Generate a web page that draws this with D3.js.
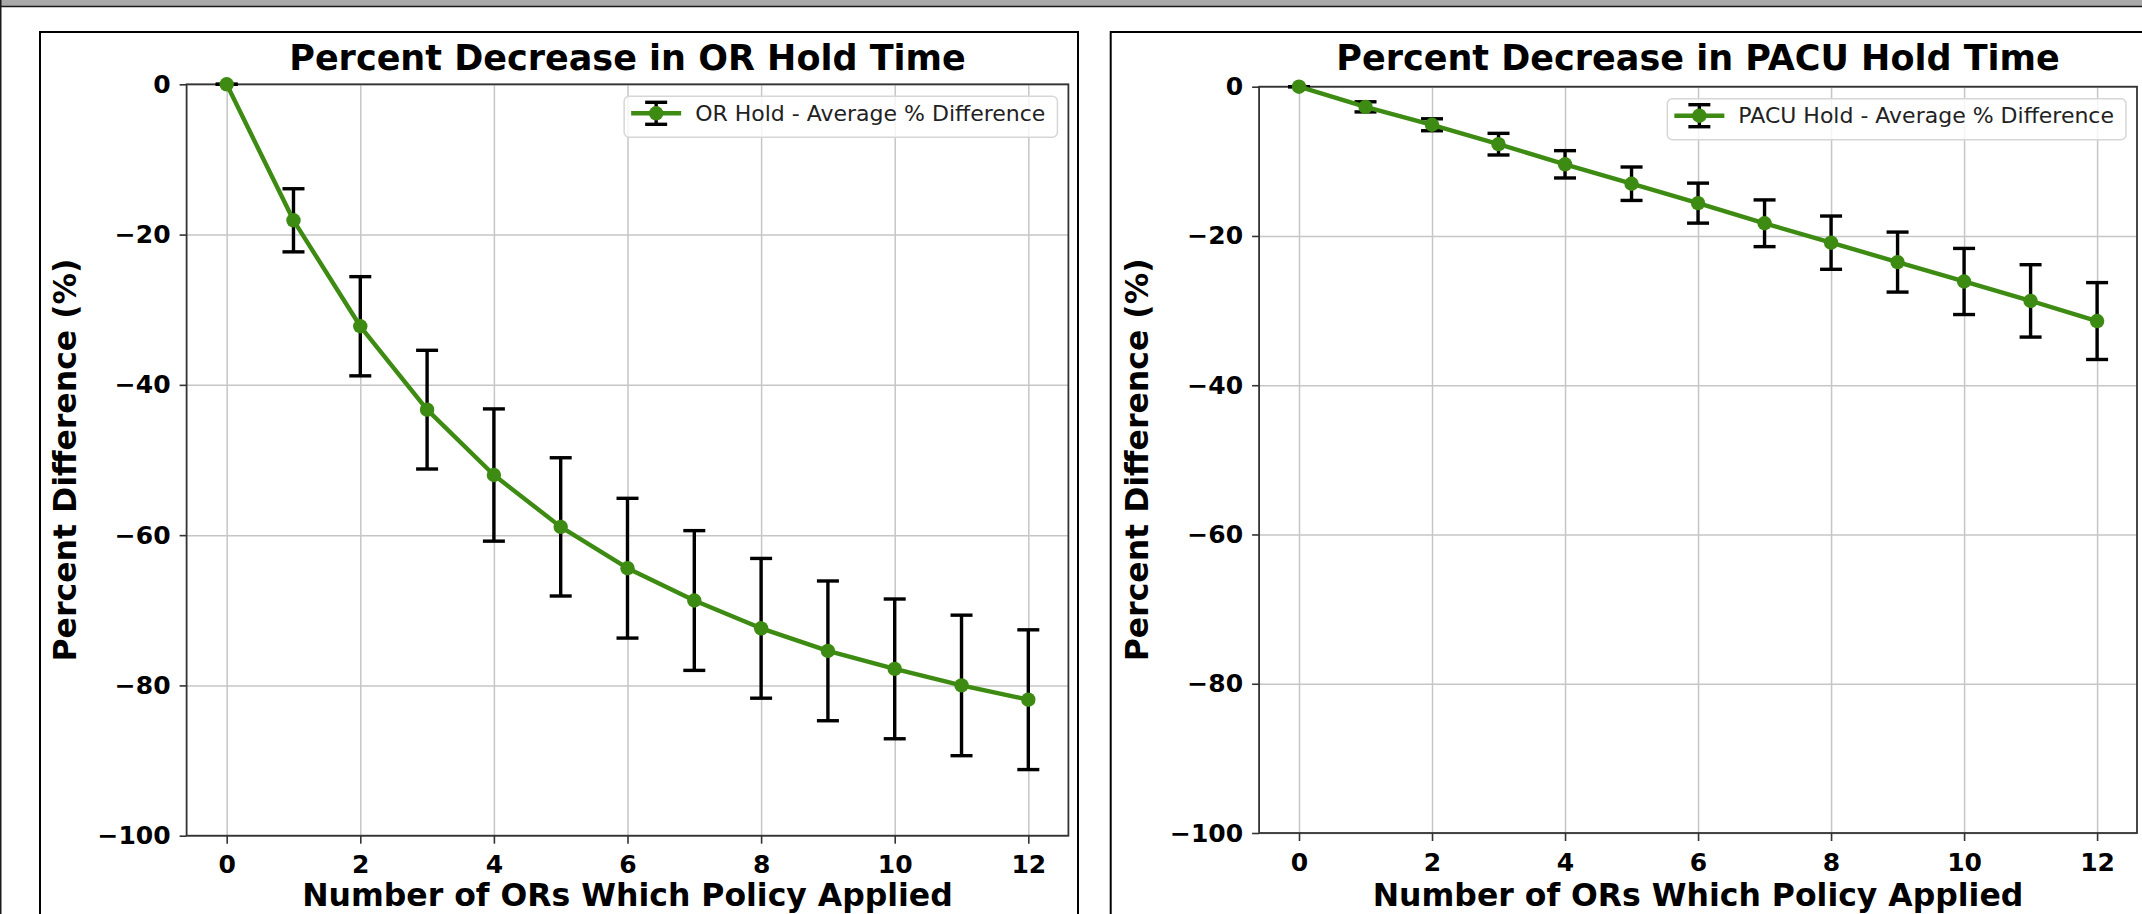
<!DOCTYPE html>
<html>
<head>
<meta charset="utf-8">
<script src="https://cdn.jsdelivr.net/npm/d3@7"></script>
<style>
  body { margin: 0; background: #fff; }
  svg { display: block; }
  .tick text { font-family: "DejaVu Sans", sans-serif; font-weight: bold; font-size: 25px; fill: #000; }
</style>
</head>
<body>
<script>
'use strict';

// x positions (number of ORs the policy was applied to)
var orsApplied = [0, 1, 2, 3, 4, 5, 6, 7, 8, 9, 10, 11, 12];

// OR hold, average % difference and error half-width
var orHoldMean = [0, -18.1, -32.2, -43.3, -52.0, -58.9, -64.4, -68.7, -72.4, -75.4, -77.8, -80.0, -81.9];
var orHoldErr  = [0, 4.2, 6.6, 7.9, 8.8, 9.2, 9.3, 9.3, 9.3, 9.3, 9.3, 9.35, 9.3];

// PACU hold, average % difference and error half-width
var pacuHoldMean = [0, -2.7, -5.1, -7.7, -10.4, -13.0, -15.6, -18.3, -20.9, -23.5, -26.1, -28.7, -31.4];
var pacuHoldErr  = [0, 0.68, 0.8, 1.45, 1.83, 2.24, 2.68, 3.13, 3.57, 4.02, 4.43, 4.85, 5.15];

var xTicks = [0, 2, 4, 6, 8, 10, 12];
var yTicks = [0, -20, -40, -60, -80, -100];

var green = "#3d8b12";

var svg = d3.select("body")
        .append("svg")
        .attr("width", 2142)
        .attr("height", 914);

// window frame bits (grey strip on top, dark edge on the left)
svg.append("rect").attr("x", 0).attr("y", 0).attr("width", 2142).attr("height", 6).attr("fill", "#a9a9a9");
svg.append("line").attr("x1", 0).attr("x2", 2142).attr("y1", 6.5).attr("y2", 6.5)
   .attr("stroke", "#1a1a1a").attr("stroke-width", 1.5);
svg.append("line").attr("x1", 0.75).attr("x2", 0.75).attr("y1", 0).attr("y2", 914)
   .attr("stroke", "#1a1a1a").attr("stroke-width", 1.5);

drawPanel({
    frame: [40, 32, 1038, 900],
    xRange: [186.6, 1068.4],
    yRange: [835.7, 84.3],
    title: "Percent Decrease in OR Hold Time",
    legend: "OR Hold - Average % Difference",
    mean: orHoldMean,
    err: orHoldErr
});

drawPanel({
    frame: [1110.7, 32, 1100, 900],
    xRange: [1259.1, 2137],
    yRange: [833, 86.7],
    title: "Percent Decrease in PACU Hold Time",
    legend: "PACU Hold - Average % Difference",
    mean: pacuHoldMean,
    err: pacuHoldErr
});

function drawPanel(p) {
    // outer border of the figure
    svg.append("rect")
        .attr("x", p.frame[0]).attr("y", p.frame[1])
        .attr("width", p.frame[2]).attr("height", p.frame[3])
        .attr("fill", "#fff")
        .attr("stroke", "#000")
        .attr("stroke-width", 2);

    var xScale = d3.scaleLinear().domain([-0.6, 12.6]).range(p.xRange);
    var yScale = d3.scaleLinear().domain([-100, 0]).range(p.yRange);

    var left = p.xRange[0], right = p.xRange[1];
    var top = p.yRange[1], bottom = p.yRange[0];
    var width = right - left, height = bottom - top;

    var g = svg.append("g");

    // grid
    g.append("g")
        .attr("transform", "translate(0," + bottom + ")")
        .call(d3.axisBottom(xScale).tickValues(xTicks).tickSize(-height).tickFormat(""))
        .call(function(s) {
            s.select(".domain").remove();
            s.selectAll("line").attr("stroke", "#c6c6c6").attr("stroke-width", 1.5);
        });
    g.append("g")
        .attr("transform", "translate(" + left + ",0)")
        .call(d3.axisLeft(yScale).tickValues(yTicks).tickSize(-width).tickFormat(""))
        .call(function(s) {
            s.select(".domain").remove();
            s.selectAll("line").attr("stroke", "#c6c6c6").attr("stroke-width", 1.5);
        });

    // axes
    g.append("g")
        .attr("transform", "translate(0," + bottom + ")")
        .call(d3.axisBottom(xScale).tickValues(xTicks).tickSize(8).tickPadding(12).tickSizeOuter(0))
        .call(function(s) {
            s.select(".domain").remove();
            s.selectAll("line").attr("stroke", "#333").attr("stroke-width", 1.6);
        });
    g.append("g")
        .attr("transform", "translate(" + left + ",0)")
        .call(d3.axisLeft(yScale).tickValues(yTicks).tickSize(7).tickPadding(9).tickSizeOuter(0)
              .tickFormat(function(d) { return d < 0 ? "\u2212" + Math.abs(d) : d; }))
        .call(function(s) {
            s.select(".domain").remove();
            s.selectAll("line").attr("stroke", "#333").attr("stroke-width", 1.6);
        });

    // spines
    g.append("rect")
        .attr("x", left).attr("y", top)
        .attr("width", width).attr("height", height)
        .attr("fill", "none")
        .attr("stroke", "#333")
        .attr("stroke-width", 1.8);

    var data = orsApplied.map(function(x, i) { return {x: x, m: p.mean[i], e: p.err[i]}; });
    var cap = 11;

    // error bars
    var bars = g.selectAll(".ebar").data(data).enter().append("g").attr("class", "ebar")
        .attr("stroke", "#000").attr("stroke-width", 3.4);
    bars.append("line")
        .attr("x1", function(d) { return xScale(d.x); })
        .attr("x2", function(d) { return xScale(d.x); })
        .attr("y1", function(d) { return yScale(d.m + d.e); })
        .attr("y2", function(d) { return yScale(d.m - d.e); });
    bars.append("line")
        .attr("x1", function(d) { return xScale(d.x) - cap; })
        .attr("x2", function(d) { return xScale(d.x) + cap; })
        .attr("y1", function(d) { return yScale(d.m + d.e); })
        .attr("y2", function(d) { return yScale(d.m + d.e); });
    bars.append("line")
        .attr("x1", function(d) { return xScale(d.x) - cap; })
        .attr("x2", function(d) { return xScale(d.x) + cap; })
        .attr("y1", function(d) { return yScale(d.m - d.e); })
        .attr("y2", function(d) { return yScale(d.m - d.e); });

    // mean line + markers
    var line = d3.line()
        .x(function(d) { return xScale(d.x); })
        .y(function(d) { return yScale(d.m); });
    g.append("path")
        .datum(data)
        .attr("d", line)
        .attr("fill", "none")
        .attr("stroke", green)
        .attr("stroke-width", 4.4)
        .attr("stroke-linejoin", "round");
    g.selectAll(".pt").data(data).enter().append("circle").attr("class", "pt")
        .attr("cx", function(d) { return xScale(d.x); })
        .attr("cy", function(d) { return yScale(d.m); })
        .attr("r", 7.2)
        .attr("fill", green);

    // title
    g.append("text")
        .attr("x", (left + right) / 2)
        .attr("y", 70)
        .attr("text-anchor", "middle")
        .style("font-family", "DejaVu Sans, sans-serif")
        .style("font-weight", "bold")
        .style("font-size", "35px")
        .text(p.title);

    // x label (sits at the bottom edge, nudged so it stays inside)
    g.append("text")
        .attr("x", (left + right) / 2)
        .attr("y", 906)
        .attr("text-anchor", "middle")
        .style("font-family", "DejaVu Sans, sans-serif")
        .style("font-weight", "bold")
        .style("font-size", "31.5px")
        .text("Number of ORs Which Policy Applied");

    // y label
    g.append("text")
        .attr("transform", "translate(" + (left - 111) + "," + ((top + bottom) / 2) + ") rotate(-90)")
        .attr("text-anchor", "middle")
        .style("font-family", "DejaVu Sans, sans-serif")
        .style("font-weight", "bold")
        .style("font-size", "31.5px")
        .text("Percent Difference (%)");

    // legend
    var lg = g.append("g");
    var box = lg.append("rect")
        .attr("fill", "#fff")
        .attr("fill-opacity", 0.8)
        .attr("stroke", "#d6d6d6")
        .attr("stroke-width", 1.5)
        .attr("rx", 5);
    var label = lg.append("text")
        .style("font-family", "DejaVu Sans, sans-serif")
        .style("font-size", "22px")
        .attr("fill", "#222")
        .attr("dy", "0.35em")
        .text(p.legend);
    var textW = label.node().getComputedTextLength();
    var boxW = 7 + 50 + 14 + textW + 12;
    var boxH = 41;
    var bx = right - 11 - boxW, by = top + 12;
    box.attr("x", bx).attr("y", by).attr("width", boxW).attr("height", boxH);
    var hy = by + boxH / 2 - 3.5;
    var hx = bx + 7;
    label.attr("x", hx + 64).attr("y", hy);
    lg.append("line").attr("x1", hx).attr("x2", hx + 50).attr("y1", hy).attr("y2", hy)
        .attr("stroke", green).attr("stroke-width", 4.4);
    lg.append("line").attr("x1", hx + 25).attr("x2", hx + 25).attr("y1", hy - 11).attr("y2", hy + 11)
        .attr("stroke", "#000").attr("stroke-width", 3.4);
    lg.append("line").attr("x1", hx + 25 - cap).attr("x2", hx + 25 + cap).attr("y1", hy - 11).attr("y2", hy - 11)
        .attr("stroke", "#000").attr("stroke-width", 3.4);
    lg.append("line").attr("x1", hx + 25 - cap).attr("x2", hx + 25 + cap).attr("y1", hy + 11).attr("y2", hy + 11)
        .attr("stroke", "#000").attr("stroke-width", 3.4);
    lg.append("circle").attr("cx", hx + 25).attr("cy", hy).attr("r", 7.2).attr("fill", green);
}
</script>
</body>
</html>
